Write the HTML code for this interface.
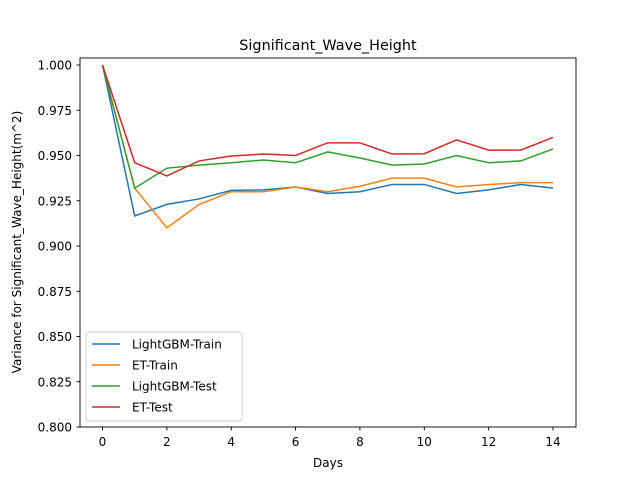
<!DOCTYPE html>
<html><head><meta charset="utf-8"><style>
html,body{margin:0;padding:0;background:#fff;}
svg text{font-family:"DejaVu Sans","Liberation Sans",sans-serif;fill:#000;}
</style></head><body>
<svg id="chart" width="640" height="480">
<text x="328" y="50" font-size="14.4" text-anchor="middle">Significant_Wave_Height</text>
<rect x="80" y="58" width="496" height="369" fill="none" stroke="#000" stroke-width="0.9"/>
<g id="yticks"></g><g id="xticks"></g><g id="series"></g>
<text x="328" y="467" font-size="12" text-anchor="middle">Days</text>
<text transform="translate(21,242) rotate(-90)" font-size="12" text-anchor="middle">Variance for Significant_Wave_Height(m^2)</text>
<g id="legend">
<rect x="86" y="332" width="156" height="89" rx="3" fill="#fff" fill-opacity="0.8" stroke="#ccc" stroke-width="0.9"/>
</g>
</svg>
<script>
const days=[0,1,2,3,4,5,6,7,8,9,10,11,12,13,14];
const lgbmTrain=[1.0,0.9166,0.923,0.926,0.9307,0.931,0.9326,0.929,0.930,0.934,0.934,0.929,0.931,0.934,0.932];
const etTrain=[1.0,0.932,0.910,0.923,0.930,0.930,0.9326,0.930,0.933,0.9375,0.9375,0.9326,0.934,0.935,0.935];
const lgbmTest=[1.0,0.932,0.943,0.9447,0.946,0.9475,0.946,0.952,0.9486,0.9447,0.9453,0.950,0.946,0.947,0.9536];
const etTest=[1.0,0.946,0.9387,0.947,0.9497,0.9508,0.950,0.957,0.957,0.9508,0.951,0.9586,0.953,0.953,0.960];
const yTickVals=[0.800,0.825,0.850,0.875,0.900,0.925,0.950,0.975,1.000];
const xTickVals=[0,2,4,6,8,10,12,14];
const seriesNames=["LightGBM-Train","ET-Train","LightGBM-Test","ET-Test"];
const seriesData=[lgbmTrain,etTrain,lgbmTest,etTest];
const colors=["#1f77b4","#ff7f0e","#2ca02c","#d62728"];
const NS="http://www.w3.org/2000/svg";
const xS=d=>102.5+(d-0)*(553-102.5)/14;
const yS=v=>427-(v-0.8)*(427-65)/0.2;
function mk(t,a,p){const e=document.createElementNS(NS,t);for(const k in a)e.setAttribute(k,a[k]);p.appendChild(e);return e;}
const yg=document.getElementById('yticks');
yTickVals.forEach(v=>{
 const l=mk('line',{x1:76.5,x2:80,y1:yS(v),y2:yS(v),stroke:'#000','stroke-width':0.9},yg);
 
 
 const t=mk('text',{x:72,y:yS(v)+4.5,'font-size':12,'text-anchor':'end'},yg);t.textContent=v.toFixed(3);
 
 
});
const xg=document.getElementById('xticks');
xTickVals.forEach(v=>{
 const l=mk('line',{x1:xS(v),x2:xS(v),y1:427,y2:430.5,stroke:'#000','stroke-width':0.9},xg);
 
 
 const t=mk('text',{x:xS(v),y:446,'font-size':12,'text-anchor':'middle'},xg);t.textContent=v;
 
 
});
const sg=document.getElementById('series');
seriesData.forEach((s,i)=>{
 const p=mk('polyline',{points:s.map((v,j)=>xS(days[j])+','+yS(v)).join(' '),fill:'none',stroke:colors[i],'stroke-width':1.5},sg);
 
 
});
const lg=document.getElementById('legend');
seriesNames.forEach((n,i)=>{
 const y=344+i*21;
 const l=mk('line',{x1:92,x2:120,y1:y,y2:y,stroke:colors[i],'stroke-width':1.5},lg);
 
 
 const t=mk('text',{x:132,y:y+4.5,'font-size':12},lg);t.textContent=n;
 
 
});
</script>
</body></html>
